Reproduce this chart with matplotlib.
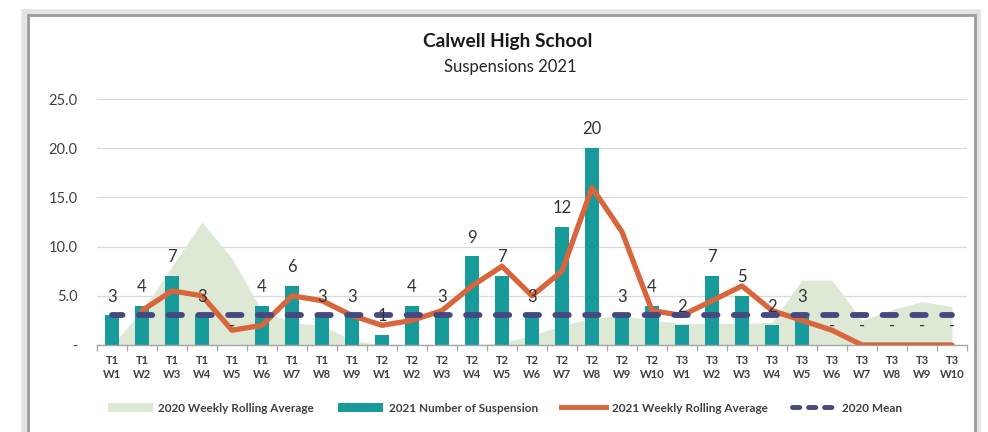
import numpy as np
import matplotlib
matplotlib.use("Agg")
import matplotlib.pyplot as plt
from matplotlib.patches import Rectangle, Patch
from matplotlib.lines import Line2D
from matplotlib.ticker import FixedLocator, FuncFormatter

plt.rcParams['font.family'] = ['Lato', 'DejaVu Sans']

# Week labels (term / week)
week_labels = [
    "T1\nW1", "T1\nW2", "T1\nW3", "T1\nW4", "T1\nW5", "T1\nW6", "T1\nW7", "T1\nW8", "T1\nW9",
    "T2\nW1", "T2\nW2", "T2\nW3", "T2\nW4", "T2\nW5", "T2\nW6", "T2\nW7", "T2\nW8", "T2\nW9", "T2\nW10",
    "T3\nW1", "T3\nW2", "T3\nW3", "T3\nW4", "T3\nW5", "T3\nW6", "T3\nW7", "T3\nW8", "T3\nW9", "T3\nW10",
]

# 2021 weekly suspensions
suspensions_2021 = [3, 4, 7, 3, 0, 4, 6, 3, 3,
                    1, 4, 3, 9, 7, 3, 12, 20, 3, 4,
                    2, 7, 5, 2, 3, 0, 0, 0, 0, 0]

# 2021 weekly rolling average
rolling_2021 = [np.nan, 3.5, 5.5, 5.0, 1.5, 2.0, 5.0, 4.5, 3.0,
                2.0, 2.5, 3.5, 6.0, 8.0, 5.0, 7.5, 16.0, 11.5, 3.5,
                3.0, 4.5, 6.0, 3.5, 2.5, 1.5, 0.0, 0.0, 0.0, 0.0]

# 2020 weekly rolling average (shaded area)
rolling_2020 = [0.0, 3.5, 8.0, 12.5, 8.8, 3.5, 2.3, 2.0, 0.5,
                0.0, 0.0, 0.0, 0.0, 0.2, 1.0, 2.0, 2.7, 3.0, 2.5,
                2.2, 2.2, 2.2, 2.3, 6.6, 6.6, 2.5, 3.6, 4.4, 3.9]

mean_2020 = 3.0

# colours
area_col = '#dde9d5'
bar_col = '#179a9a'
line_col = '#d8653c'
mean_col = '#45497f'
text_col = '#404040'

x = np.arange(len(week_labels))

fig = plt.figure(figsize=(9.88, 4.32), dpi=100)
fig.patch.set_facecolor('white')

# chart card frame (drawn behind the axes)
fig.patches.append(Rectangle((24 / 988, -0.05), 954 / 988, (432 - 12) / 432 + 0.05,
                             transform=fig.transFigure, facecolor='none',
                             edgecolor='#e2e2e2', linewidth=4, zorder=-10))
fig.patches.append(Rectangle((28 / 988, -0.05), 947 / 988, (432 - 15) / 432 + 0.05,
                             transform=fig.transFigure, facecolor='white',
                             edgecolor='#9b9b9b', linewidth=2.0, zorder=-9))

ax = fig.add_axes([97 / 988, (432 - 345) / 432, 870 / 988, 246 / 432])
ax.set_zorder(1)
ax.set_facecolor('none')

ax.fill_between(x, rolling_2020, 0, color=area_col, linewidth=0, zorder=1)
ax.bar(x, suspensions_2021, width=0.45, color=bar_col, zorder=2)
ax.plot(x, rolling_2021, color=line_col, linewidth=3.8, solid_capstyle='round',
        solid_joinstyle='round', zorder=3)
ax.plot(x, np.full(len(x), mean_2020), color=mean_col, linewidth=4.2,
        linestyle=(0.5, (2.3, 2.8)), dash_capstyle='round', zorder=4)

# data labels
for xi, v in zip(x, suspensions_2021):
    lbl = str(int(v)) if v > 0 else '-'
    ax.annotate(lbl, (xi, v), xytext=(0, 13.5), textcoords='offset points',
                ha='center', va='center', fontsize=12, color='#333333', zorder=5)

ax.set_xlim(-0.5, len(x) - 0.5)
ax.set_ylim(0, 25)
ax.yaxis.set_major_locator(FixedLocator([0, 5, 10, 15, 20, 25]))
ax.yaxis.set_major_formatter(FuncFormatter(lambda v, p: '-' if v == 0 else f'{v:.1f}'))
ax.grid(axis='y', color='#d9d9d9', linewidth=0.9, zorder=0)
ax.set_axisbelow(True)

ax.set_xticks(x)
ax.set_xticklabels(week_labels, fontsize=8, fontweight='bold', color=text_col,
                   linespacing=1.35)
ax.set_xticks(np.arange(len(x) + 1) - 0.5, minor=True)
ax.tick_params(axis='x', which='major', length=0, pad=7)
ax.tick_params(axis='x', which='minor', length=4, color='#a6a6a6', width=0.9)
ax.tick_params(axis='y', length=0, pad=14, labelsize=10.5, labelcolor=text_col)

for s in ['top', 'right', 'left']:
    ax.spines[s].set_visible(False)
ax.spines['bottom'].set_color('#a6a6a6')
ax.spines['bottom'].set_linewidth(1.0)

fig.text(508 / 988, 1 - 42 / 432, 'Calwell High School', ha='center', va='center',
         fontsize=13.8, fontweight='bold', color='#1a1a1a')
fig.text(510 / 988, 1 - 67 / 432, 'Suspensions 2021', ha='center', va='center',
         fontsize=12, color='#262626')

handles = [
    Patch(facecolor=area_col, edgecolor='none'),
    Patch(facecolor=bar_col, edgecolor='none'),
    Line2D([], [], color=line_col, linewidth=3.5),
    Line2D([], [], color=mean_col, linewidth=3.5, linestyle=(0, (1.5, 1.8)),
           dash_capstyle='round'),
]
labels = ['2020 Weekly Rolling Average', '2021 Number of Suspension',
          '2021 Weekly Rolling Average', '2020 Mean']
leg = fig.legend(handles, labels, loc='center', bbox_to_anchor=(505 / 988, 1 - 408 / 432),
                 ncol=4, frameon=False, fontsize=8.5, handlelength=3.8, handleheight=0.9,
                 handletextpad=0.5, columnspacing=2.0)
for t in leg.get_texts():
    t.set_color(text_col)
    t.set_fontweight('bold')

fig.savefig('out.png', dpi=100)
